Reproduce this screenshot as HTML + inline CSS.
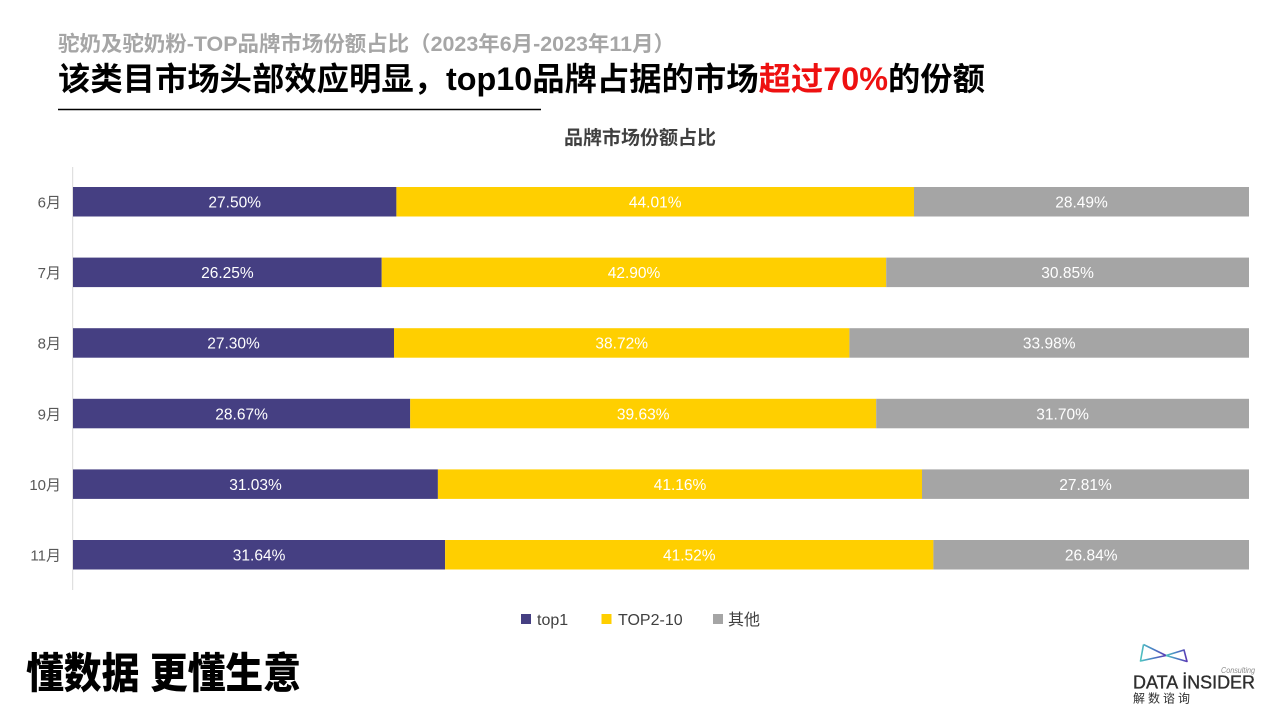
<!DOCTYPE html>
<html>
<head>
<meta charset="utf-8">
<style>
html,body{margin:0;padding:0;background:#fff;}
body{width:1280px;height:720px;overflow:hidden;}
svg{display:block;}
text{font-family:"Liberation Sans","Noto Sans CJK SC",sans-serif;}
</style>
</head>
<body>
<svg width="1280" height="720" viewBox="0 0 1280 720" xmlns="http://www.w3.org/2000/svg">
  <!-- Header -->
  <text x="58" y="51" font-size="21" font-weight="bold" fill="#a6a6a6" textLength="617" lengthAdjust="spacingAndGlyphs">驼奶及驼奶粉-TOP品牌市场份额占比（2023年6月-2023年11月）</text>
  <text x="58" y="90" font-size="32" font-weight="bold" fill="#000" textLength="927" lengthAdjust="spacingAndGlyphs">该类目市场头部效应明显，top10品牌占据的市场<tspan fill="#ee1111">超过70%</tspan>的份额</text>
  <line x1="58" y1="109.5" x2="541" y2="109.5" stroke="#000" stroke-width="1.6"/>

  <!-- Chart title -->
  <text x="640" y="144" font-size="19" font-weight="bold" fill="#404040" text-anchor="middle">品牌市场份额占比</text>

  <!-- Axis -->
  <line x1="72.7" y1="167" x2="72.7" y2="590" stroke="#d9d9d9" stroke-width="1"/>

  <!-- Bars -->
  <g>
    <rect x="73" y="187" width="323.4" height="29.5" fill="#453f82"/>
    <rect x="396.4" y="187" width="517.6" height="29.5" fill="#ffcf00"/>
    <rect x="914" y="187" width="335" height="29.5" fill="#a5a5a5"/>

    <rect x="73" y="257.6" width="308.7" height="29.5" fill="#453f82"/>
    <rect x="381.7" y="257.6" width="504.5" height="29.5" fill="#ffcf00"/>
    <rect x="886.2" y="257.6" width="362.8" height="29.5" fill="#a5a5a5"/>

    <rect x="73" y="328.2" width="321" height="29.5" fill="#453f82"/>
    <rect x="394" y="328.2" width="455.4" height="29.5" fill="#ffcf00"/>
    <rect x="849.4" y="328.2" width="399.6" height="29.5" fill="#a5a5a5"/>

    <rect x="73" y="398.8" width="337.2" height="29.5" fill="#453f82"/>
    <rect x="410.2" y="398.8" width="466" height="29.5" fill="#ffcf00"/>
    <rect x="876.2" y="398.8" width="372.8" height="29.5" fill="#a5a5a5"/>

    <rect x="73" y="469.4" width="364.9" height="29.5" fill="#453f82"/>
    <rect x="437.9" y="469.4" width="484.1" height="29.5" fill="#ffcf00"/>
    <rect x="922" y="469.4" width="327" height="29.5" fill="#a5a5a5"/>

    <rect x="73" y="540" width="372.1" height="29.5" fill="#453f82"/>
    <rect x="445.1" y="540" width="488.3" height="29.5" fill="#ffcf00"/>
    <rect x="933.4" y="540" width="315.6" height="29.5" fill="#a5a5a5"/>
  </g>

  <!-- Y labels -->
  <g font-size="15" fill="#595959" text-anchor="end">
    <text x="61" y="207.5">6月</text>
    <text x="61" y="278.1">7月</text>
    <text x="61" y="348.7">8月</text>
    <text x="61" y="419.3">9月</text>
    <text x="61" y="489.9">10月</text>
    <text x="61" y="560.5">11月</text>
  </g>

  <!-- Data labels -->
  <g font-size="15.5" fill="#ffffff" text-anchor="middle">
    <text x="234.7" y="207.5">27.50%</text>
    <text x="655.2" y="207.5">44.01%</text>
    <text x="1081.5" y="207.5">28.49%</text>

    <text x="227.4" y="278.1">26.25%</text>
    <text x="634" y="278.1">42.90%</text>
    <text x="1067.6" y="278.1">30.85%</text>

    <text x="233.5" y="348.7">27.30%</text>
    <text x="621.7" y="348.7">38.72%</text>
    <text x="1049.2" y="348.7">33.98%</text>

    <text x="241.6" y="419.3">28.67%</text>
    <text x="643.2" y="419.3">39.63%</text>
    <text x="1062.6" y="419.3">31.70%</text>

    <text x="255.5" y="489.9">31.03%</text>
    <text x="680" y="489.9">41.16%</text>
    <text x="1085.5" y="489.9">27.81%</text>

    <text x="259.1" y="560.5">31.64%</text>
    <text x="689.3" y="560.5">41.52%</text>
    <text x="1091.2" y="560.5">26.84%</text>
  </g>

  <!-- Legend -->
  <rect x="521" y="614" width="10" height="10" fill="#453f82"/>
  <text x="537" y="625" font-size="16" fill="#404040">top1</text>
  <rect x="601.5" y="614" width="10" height="10" fill="#ffcf00"/>
  <text x="618" y="625" font-size="16" fill="#404040">TOP2-10</text>
  <rect x="713" y="614" width="10" height="10" fill="#a5a5a5"/>
  <text x="728" y="625" font-size="16" fill="#404040">其他</text>

  <!-- Slogan -->
  <g transform="translate(26,0) scale(0.9,1)">
    <text x="0" y="688" font-size="42" font-weight="900" fill="#000">懂数据 更懂生意</text>
  </g>

  <!-- Logo -->
  <defs>
    <linearGradient id="lg" x1="0" x2="1" y1="0" y2="0">
      <stop offset="0" stop-color="#4fc3c0"/>
      <stop offset="0.5" stop-color="#4a7fc4"/>
      <stop offset="1" stop-color="#5a3ab4"/>
    </linearGradient>
  </defs>
  <g fill="none" stroke="url(#lg)" stroke-width="1.6" stroke-linejoin="round">
    <polyline points="1143.5,644.5 1140.5,661 1166,655.5 1143.5,644.5"/>
    <polyline points="1166,655.5 1184,650 1187,661.5 1166,655.5"/>
  </g>
  <text x="1221" y="673" font-size="8" font-style="italic" fill="#8a8a8a" textLength="34" lengthAdjust="spacingAndGlyphs">Consulting</text>
  <text x="1133" y="688.5" font-size="18" fill="#2e2e2e" stroke="#2e2e2e" stroke-width="0.35" textLength="122" lengthAdjust="spacingAndGlyphs">DATA İNSIDER</text>
  <text x="1133" y="702.5" font-size="12" fill="#2e2e2e" letter-spacing="3">解数谘询</text>
</svg>
</body>
</html>
